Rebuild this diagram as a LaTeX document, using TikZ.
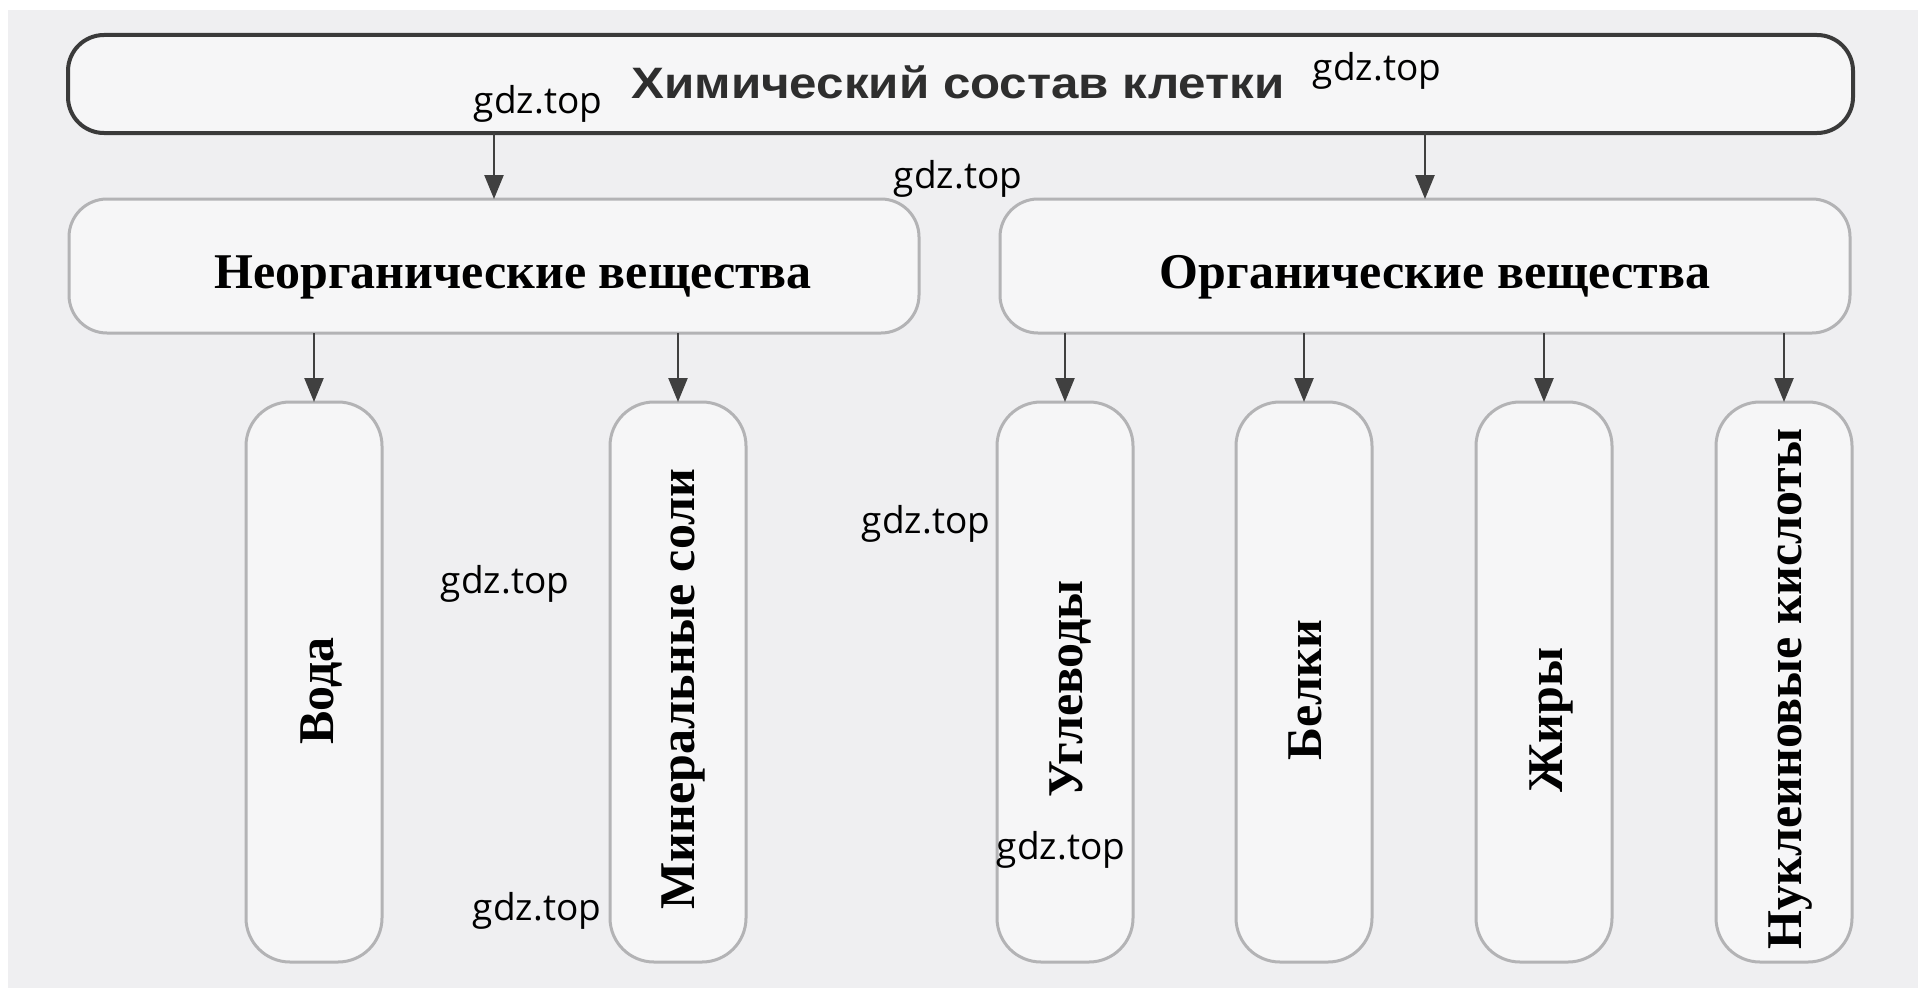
\documentclass[tikz,border=0pt]{standalone}
\usepackage{fontspec}
\setmainfont{Liberation Serif}
\newfontfamily\titlefont[FakeStretch=1.12]{Liberation Sans}
\newfontfamily\wmfont{Open Sans}
\usetikzlibrary{arrows.meta}
\definecolor{bg}{HTML}{EFEFF1}
\definecolor{boxfill}{HTML}{F6F6F7}
\definecolor{topline}{HTML}{3A3A3A}
\definecolor{boxline}{HTML}{B3B3B5}
\definecolor{arrowc}{HTML}{404040}
\definecolor{titlec}{HTML}{2E2E2E}
\begin{document}
\begin{tikzpicture}[x=1pt,y=-1pt,
  topbox/.style={draw=topline, line width=4pt, rounded corners=36pt, fill=boxfill,
    minimum width=1785pt, minimum height=98pt, inner sep=0pt, outer sep=0pt},
  midbox/.style={draw=boxline, line width=3pt, rounded corners=38pt, fill=boxfill,
    minimum width=850pt, minimum height=134pt, inner sep=0pt, outer sep=0pt},
  colbox/.style={draw=boxline, line width=3pt, rounded corners=44pt, fill=boxfill,
    minimum width=136pt, minimum height=560pt, inner sep=0pt, outer sep=0pt},
  arr/.style={draw=arrowc, line width=2.4pt, -{Triangle[length=24pt,width=19pt]}},
  titletext/.style={anchor=base, text=titlec, inner sep=0pt,
    font={\titlefont\bfseries\fontsize{44pt}{50pt}\selectfont}},
  serifh/.style={anchor=base, inner sep=0pt, font={\bfseries\fontsize{50pt}{54pt}\selectfont}},
  serifv/.style={anchor=base, rotate=90, inner sep=0pt, font={\bfseries\fontsize{50pt}{54pt}\selectfont}},
  wm/.style={anchor=base, inner sep=0pt, font={\wmfont\fontsize{37pt}{40pt}\selectfont}}
]
\useasboundingbox (0,0) rectangle (1918,990);
\fill[white] (0,0) rectangle (1918,990);
\fill[bg] (8,10) rectangle (1918,988);

% boxes
\node[topbox] (top) at (960.5,84) {};
\node[midbox] (inorg) at (494,266) {};
\node[midbox] (org) at (1425,266) {};
\node[colbox] (voda) at (314,682) {};
\node[colbox] (mineral) at (678,682) {};
\node[colbox] (ugl) at (1065,682) {};
\node[colbox] (belki) at (1304,682) {};
\node[colbox] (zhiry) at (1544,682) {};
\node[colbox] (nukl) at (1784,682) {};

% texts
\node[titletext] (ttop) at (958,98) {Химический состав клетки};
\node[serifh] (tinorg) at (513,288) {Неорганические вещества};
\node[serifh] (torg) at (1435,288) {Органические вещества};
\node[serifv] (tvoda) at (333,691) {Вода};
\node[serifv] (tmineral) at (694,689) {Минеральные соли};
\node[serifv] (tugl) at (1082,689) {Углеводы};
\node[serifv] (tbelki) at (1321,690) {Белки};
\node[serifv] (tzhiry) at (1562,720) {Жиры};
\node[serifv] (tnukl) at (1801,689) {Нуклеиновые кислоты};

% connectors
\draw[arr] (top.south -| inorg.north) -- (inorg.north);
\draw[arr] (top.south -| org.north) -- (org.north);
\draw[arr] (inorg.south -| voda.north) -- (voda.north);
\draw[arr] (inorg.south -| mineral.north) -- (mineral.north);
\draw[arr] (org.south -| ugl.north) -- (ugl.north);
\draw[arr] (org.south -| belki.north) -- (belki.north);
\draw[arr] (org.south -| zhiry.north) -- (zhiry.north);
\draw[arr] (org.south -| nukl.north) -- (nukl.north);

% watermarks
\node[wm] (w1) at (538,113) {gdz.top};
\node[wm] (w2) at (1377,81) {gdz.top};
\node[wm] (w3) at (958,188) {gdz.top};
\node[wm] (w4) at (926,533) {gdz.top};
\node[wm] (w5) at (505,593) {gdz.top};
\node[wm] (w6) at (1061,859) {gdz.top};
\node[wm] (w7) at (537,920) {gdz.top};
\end{tikzpicture}
\end{document}
